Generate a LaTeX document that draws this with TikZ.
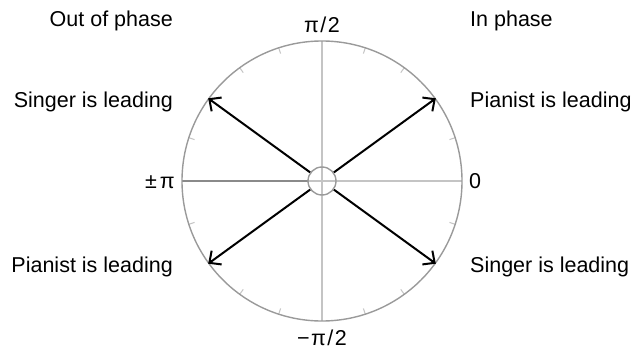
\documentclass[tikz,border=0pt]{standalone}
\usepackage{fontspec}
\setmainfont{Liberation Sans}
\usetikzlibrary{arrows.meta,calc}
\definecolor{rimgray}{HTML}{9A9A9A}
\definecolor{axisgray}{HTML}{C4C4C4}
\definecolor{darkaxis}{HTML}{8A8A8A}
\tikzset{
  lbl/.style={inner sep=0pt, font=\fontsize{21.5}{25}\selectfont},
  rim/.style={draw=rimgray, line width=1.4pt},
  axis/.style={draw=axisgray, line width=1.2pt},
  tick/.style={draw=axisgray, line width=1pt},
  phasor/.style={draw=black, line width=2pt, -{Straight Barb[length=9pt,width=17pt,line width=2pt]}}
}
\begin{document}
\begin{tikzpicture}[x=1pt,y=-1pt]
\useasboundingbox (0,0) rectangle (644,350);
\coordinate (c) at (322,181);
% axes
\coordinate (L) at (182,181);
\coordinate (R) at (462,181);
\coordinate (T) at (322,41);
\coordinate (B) at (322,321);
\draw[axis] (L) -- (R);
\draw[axis] (T) -- (B);
\draw[draw=darkaxis, line width=1.2pt] (L) -- (308,181);
% ticks
\foreach \a in {18,36,54,72,108,126,144,162,198,216,234,252,288,306,324,342}{
  \draw[tick] ($(c)+(\a:140)$) -- ($(c)+(\a:134)$);
}
% circles
\node[rim, circle, minimum size=280pt, inner sep=0pt] (big) at (c) {};
\node[rim, circle, minimum size=28pt, inner sep=0pt] (small) at (c) {};
% arrows
\draw[phasor] (small.36) -- (big.36);
\draw[phasor] (small.144) -- (big.144);
\draw[phasor] (small.216) -- (big.216);
\draw[phasor] (small.324) -- (big.324);
% labels
\node[lbl, anchor=base east] (outp) at (173,27) {Out of phase};
\node[lbl, anchor=base west] (inp) at (470,27) {In phase};
\node[lbl, anchor=base east] (sl1) at (173,107) {Singer is leading};
\node[lbl, anchor=base west] (pl1) at (470,107) {Pianist is leading};
\node[lbl, anchor=base east] (pl2) at (173,272) {Pianist is leading};
\node[lbl, anchor=base west] (sl2) at (470,272) {Singer is leading};
\node[lbl, anchor=base east] (pm) at (175,188) {±\kern3ptπ};
\node[lbl, anchor=base west] (zero) at (469,188) {0};
\node[lbl, anchor=base] (top) at (322,33) {π\kern1.5pt/\kern1.5pt2};
\node[lbl, anchor=base] (bot) at (322,345) {−\kern1.5ptπ\kern1.5pt/\kern1.5pt2};
\end{tikzpicture}
\end{document}
